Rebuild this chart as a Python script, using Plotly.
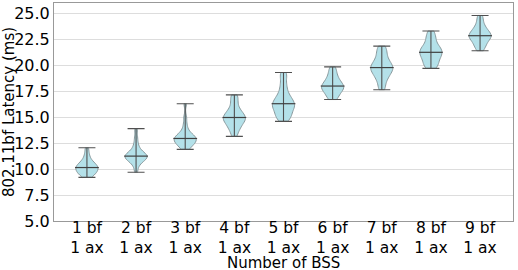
import numpy as np
import plotly.graph_objects as go

categories = [f"{i} bf<br>1 ax" for i in range(1, 10)]

lat_1 = [9.2, 9.4, 9.5, 9.6, 9.7, 9.8, 9.9, 10.0, 10.1, 10.15, 10.2, 10.3, 10.4, 10.5, 10.6, 10.8, 11.1, 11.5, 12.05]
lat_2 = [9.7, 10.3, 10.6, 10.8, 10.9, 11.0, 11.1, 11.15, 11.2, 11.25, 11.3, 11.4, 11.5, 11.6, 11.8, 12.1, 12.5, 13.1, 13.9]
lat_3 = [11.9, 12.1, 12.3, 12.4, 12.5, 12.6, 12.7, 12.8, 12.9, 12.95, 13.0, 13.1, 13.2, 13.3, 13.5, 13.8, 14.3, 15.0, 16.3]
lat_4 = [13.15, 13.6, 13.9, 14.1, 14.3, 14.5, 14.6, 14.75, 14.85, 14.97, 15.05, 15.2, 15.35, 15.5, 15.7, 16.0, 16.4, 16.8, 17.15]
lat_5 = [14.6, 14.9, 15.1, 15.3, 15.5, 15.7, 15.9, 16.0, 16.15, 16.3, 16.45, 16.6, 16.8, 17.0, 17.3, 17.7, 18.2, 18.8, 19.3]
lat_6 = [16.7, 16.9, 17.1, 17.3, 17.5, 17.6, 17.7, 17.8, 17.9, 18.0, 18.1, 18.2, 18.35, 18.5, 18.7, 18.9, 19.2, 19.5, 19.85]
lat_7 = [17.65, 18.1, 18.5, 18.8, 19.0, 19.2, 19.4, 19.5, 19.65, 19.78, 19.9, 20.05, 20.2, 20.4, 20.6, 20.9, 21.2, 21.5, 21.85]
lat_8 = [19.7, 19.9, 20.1, 20.3, 20.5, 20.7, 20.85, 21.0, 21.1, 21.25, 21.4, 21.5, 21.65, 21.8, 22.0, 22.3, 22.6, 22.9, 23.3]
lat_9 = [21.4, 21.7, 21.9, 22.1, 22.3, 22.45, 22.6, 22.7, 22.8, 22.85, 22.95, 23.05, 23.2, 23.35, 23.5, 23.7, 24.0, 24.4, 24.8]

samples = [lat_1, lat_2, lat_3, lat_4, lat_5, lat_6, lat_7, lat_8, lat_9]
y_ticks = [5.0, 7.5, 10.0, 12.5, 15.0, 17.5, 20.0, 22.5, 25.0]

fig = go.Figure()
for cat, s in zip(categories, samples):
    fig.add_trace(go.Violin(
        x=[cat] * len(s), y=s, name=cat,
        spanmode="hard", bandwidth=0.35, width=0.45, scalemode="width",
        points=False, box_visible=False, meanline_visible=False,
        fillcolor="rgb(180,225,233)", line=dict(color="#8a9a9e", width=1),
        opacity=1, hoverinfo="skip", showlegend=False,
    ))

mins = [float(np.min(s)) for s in samples]
maxs = [float(np.max(s)) for s in samples]
meds = [float(np.median(s)) for s in samples]

fig.add_trace(go.Scatter(
    x=categories, y=meds, mode="markers",
    marker=dict(symbol="line-ew", size=17, line=dict(color="#404040", width=1.2)),
    error_y=dict(type="data", symmetric=False,
                 array=[mx - md for mx, md in zip(maxs, meds)],
                 arrayminus=[md - mn for md, mn in zip(meds, mins)],
                 color="#505050", thickness=1.1, width=8.5),
    showlegend=False, hoverinfo="skip",
))

fig.update_layout(
    width=518, height=270,
    margin=dict(l=54, r=5, t=3, b=49, autoexpand=False),
    paper_bgcolor="white", plot_bgcolor="white",
    font=dict(family="DejaVu Sans", size=16, color="black"),
    violingap=0, violinmode="overlay",
)
fig.add_annotation(
    text="Number of BSS", xref="paper", yref="paper", x=0.5, y=0,
    yshift=-42, xanchor="center", yanchor="middle", showarrow=False,
    font=dict(size=15),
)
fig.update_xaxes(
    type="category", categoryorder="array", categoryarray=categories,
    range=[-0.67, 8.67], showgrid=False, automargin=False,
    showline=True, mirror=True, linecolor="#999999", linewidth=1,
    ticks="", tickfont=dict(size=15.5), ticklabelstandoff=-8,
)
fig.update_yaxes(
    range=[5, 26], tickvals=y_ticks, ticktext=[f"{v:.1f}" for v in y_ticks],
    showgrid=True, gridcolor="#dddddd", gridwidth=1, zeroline=False,
    showline=True, mirror=True, linecolor="#999999", linewidth=1,
    ticks="", tickfont=dict(size=16), automargin=False,
    title=dict(text="802.11bf Latency (ms)", font=dict(size=15), standoff=0),
)

fig.write_html("out.html", post_script="document.body.style.margin='0';",
               config={"displayModeBar": False})
